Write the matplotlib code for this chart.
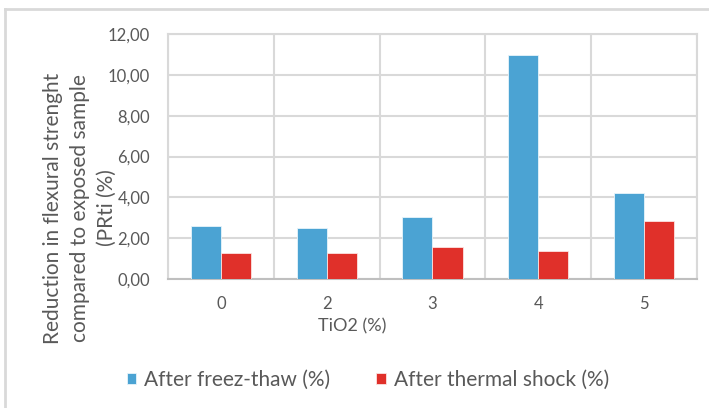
import numpy as np
import matplotlib.pyplot as plt
from matplotlib.lines import Line2D

plt.rcParams['font.family'] = ['Lato', 'DejaVu Sans']

# data
categories = ['0', '2', '3', '4', '5']
freeze_thaw = [2.58, 2.52, 3.05, 10.95, 4.22]
thermal_shock = [1.28, 1.28, 1.55, 1.38, 2.83]
yticks = [0, 2, 4, 6, 8, 10, 12]
ylabel_lines = ['Reduction in flexural strenght', 'compared to exposed sample', '(PRti (%)']

blue = '#4BA3D3'
red = '#E0302A'
grid_col = '#D9D9D9'
text_col = '#595959'

fig = plt.figure(figsize=(7.09, 4.08), dpi=100)
ax = fig.add_axes([168 / 709, 1 - 279 / 408, (697 - 168) / 709, (279 - 34) / 408])

x = np.arange(len(categories))
w = 0.285
ax.bar(x - w / 2, freeze_thaw, w, color=blue, edgecolor='#E8F4FA', linewidth=0.6,
       label='After freez-thaw (%)', zorder=3)
ax.bar(x + w / 2, thermal_shock, w, color=red, edgecolor='#FBE3E1', linewidth=0.6,
       label='After thermal shock (%)', zorder=3)

ax.set_xlim(-0.5, len(categories) - 0.5)
ax.set_ylim(0, 12)
ax.set_yticks(yticks)
ax.yaxis.set_major_formatter(plt.FuncFormatter(lambda v, p: ('%.2f' % v).replace('.', ',')))
ax.set_xticks(x)
ax.set_xticklabels(categories)
ax.set_xticks(np.arange(-0.5, len(categories)), minor=True)

ax.grid(axis='y', color=grid_col, linewidth=1.5, zorder=0)
ax.grid(axis='x', which='minor', color=grid_col, linewidth=1.5, zorder=0)
ax.grid(axis='x', which='major', visible=False)
for s in ['top', 'right', 'left']:
    ax.spines[s].set_color(grid_col)
    ax.spines[s].set_linewidth(1.5)
ax.spines['bottom'].set_color('#BFBFBF')
ax.spines['bottom'].set_linewidth(1.5)

ax.tick_params(axis='both', which='both', length=0, labelsize=12, colors=text_col)
ax.tick_params(axis='y', pad=13)
ax.tick_params(axis='x', pad=12)

fig.text(352 / 709, 1 - 326 / 408, 'TiO2 (%)', ha='center', va='center',
         fontsize=13, color=text_col)

# y label written line by line (Excel-style three-line title)
for i, line in enumerate(ylabel_lines):
    fig.text((53 + 27 * i) / 709, 1 - 208 / 408, line, rotation=90,
             ha='center', va='center', fontsize=15, color=text_col)

leg = fig.legend(loc='center', bbox_to_anchor=(368 / 709, 1 - 380 / 408), ncol=2,
                 frameon=False, fontsize=15, handlelength=0.45, handleheight=0.45,
                 handletextpad=0.4, columnspacing=2.2, labelcolor=text_col)

# outer chart border (left and top edges visible)
fig.add_artist(Line2D([5 / 709, 5 / 709], [0, 1 - 9 / 408], color=grid_col, linewidth=2,
                      transform=fig.transFigure))
fig.add_artist(Line2D([5 / 709, 1], [1 - 9 / 408, 1 - 9 / 408], color=grid_col, linewidth=2,
                      transform=fig.transFigure))

fig.savefig('out.png', dpi=100)
